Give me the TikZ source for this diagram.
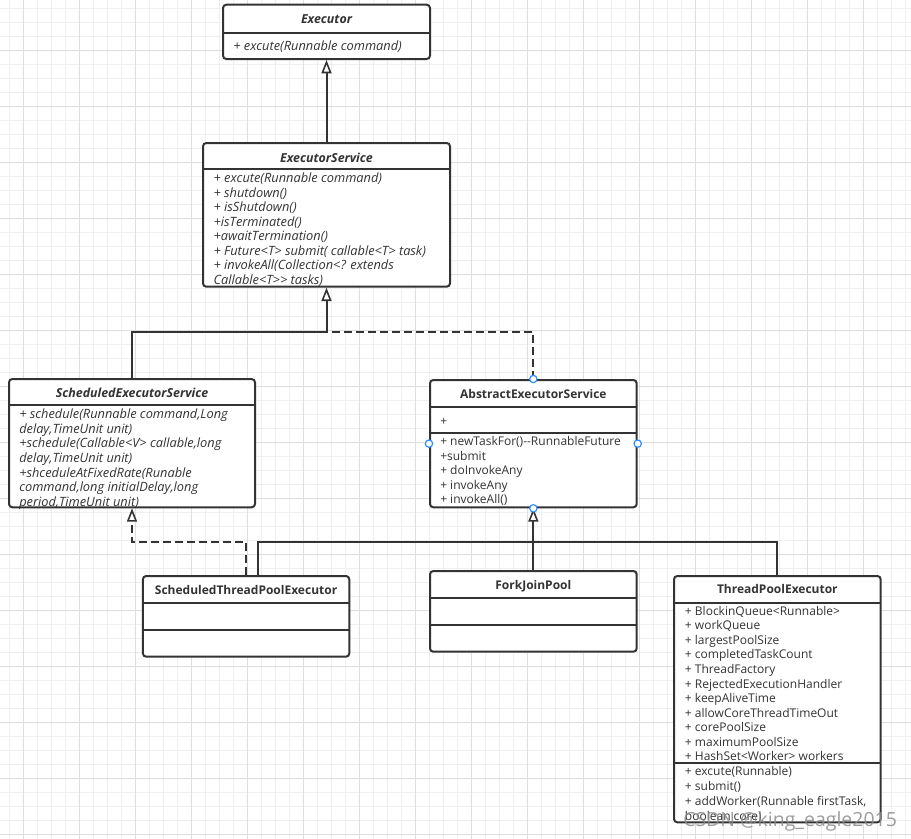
\documentclass[tikz,border=0pt]{standalone}
\usepackage{fontspec}
\setmainfont{Open Sans}
\usetikzlibrary{arrows.meta,fit}
\definecolor{ink}{HTML}{333333}
\definecolor{gridminor}{HTML}{EFEFEF}
\definecolor{gridmajor}{HTML}{DEDEDE}
\definecolor{handle}{HTML}{2F8FFF}
\tikzset{
  classbox/.style={draw=ink, line width=1.5pt, fill=white, rounded corners=2.5pt, inner sep=0pt},
  divider/.style={draw=ink, line width=1.5pt},
  ttl/.style={font=\fontsize{9}{11}\selectfont\bfseries, text=ink, inner sep=0pt, anchor=base},
  ittl/.style={ttl, font=\fontsize{9.3}{11}\selectfont\bfseries\itshape},
  member/.style={font=\fontsize{9}{11}\selectfont, text=ink, inner sep=0pt, anchor=base west},
  imember/.style={member, font=\fontsize{9.6}{11}\selectfont\itshape},
  conn/.style={draw=ink, line width=1.5pt},
  realize/.style={conn, dash pattern=on 6pt off 3pt},
  inherit/.style={-{Triangle[open, length=10pt, width=7.5pt, line width=1.2pt]}},
  handlept/.style={circle, draw=handle, fill=white, line width=0.9pt, minimum size=5.5pt, inner sep=0pt},
}
\begin{document}
\begin{tikzpicture}[x=0.75pt, y=-0.75pt]
\useasboundingbox (0,0) rectangle (911,839);
\fill[white] (0,0) rectangle (911,839);
% grid
\foreach \i in {0,...,64} \draw[gridminor, line width=0.75pt] ({9.3+14*\i},0) -- ({9.3+14*\i},839);
\foreach \i in {0,...,59} \draw[gridminor, line width=0.75pt] (0,{8.3+14*\i}) -- (911,{8.3+14*\i});
\foreach \i in {0,...,15} \draw[gridmajor, line width=0.75pt] ({23.3+56*\i},0) -- ({23.3+56*\i},839);
\foreach \i in {0,...,14} \draw[gridmajor, line width=0.75pt] (0,{50.3+56*\i}) -- (911,{50.3+56*\i});

% ---------- Executor
\node[classbox, fit={(223,4.7) (430,59)}] (exec) {};
\draw[divider] (223,32.7) -- (430,32.7);
\node[ittl] (exec-t) at (326.5,23.7) {Executor};
\node[imember] (exec-m1) at (233,50.2) {+ excute(Runnable command)};

% ---------- ExecutorService
\node[classbox, fit={(203,143) (450,286.7)}] (ess) {};
\draw[divider] (203,169.3) -- (450,169.3);
\node[ittl] (ess-t) at (326.5,162.1) {ExecutorService};
\foreach \t [count=\i] in {{+ excute(Runnable command)},{+ shutdown()},{+ isShutdown()},{+isTerminated()},{+awaitTermination()},{+ Future<T> submit( callable<T> task)},{+ invokeAll(Collection<? extends},{Callable<T>{}> tasks)}}
  \node[imember] (ess-m\i) at (213.3,{182.5+(\i-1)*14.57}) {\t};

% ---------- ScheduledExecutorService
\node[classbox, fit={(9,379) (255,507.3)}] (ses) {};
\draw[divider] (9,404.7) -- (255,404.7);
\node[ittl] (ses-t) at (132,397.1) {ScheduledExecutorService};
\foreach \t [count=\i] in {{+ schedule(Runnable command,Long},{delay,TimeUnit unit)},{+schedule(Callable<V> callable,long},{delay,TimeUnit unit)},{+shceduleAtFixedRate(Runable},{command,long initialDelay,long},{period,TimeUnit unit)}}
  \node[imember] (ses-m\i) at (19,{418.5+(\i-1)*14.67}) {\t};

% ---------- AbstractExecutorService
\node[classbox, fit={(430,380) (636.7,507.3)}] (aes) {};
\draw[divider] (430,406.7) -- (636.7,406.7);
\draw[divider] (430,433.3) -- (636.7,433.3);
\node[ttl] (aes-t) at (533.35,398.4) {AbstractExecutorService};
\node[member] (aes-f1) at (440,425.2) {+};
\foreach \t [count=\i] in {{+ newTaskFor()-{}-RunnableFuture},{+submit},{+ doInvokeAny},{+ invokeAny},{+ invokeAll()}}
  \node[member] (aes-m\i) at (440,{445.9+(\i-1)*14.4}) {\t};

% ---------- ScheduledThreadPoolExecutor
\node[classbox, fit={(142.9,576) (349.3,656.7)}] (stpe) {};
\draw[divider] (142.9,603.3) -- (349.3,603.3);
\draw[divider] (142.9,630) -- (349.3,630);
\node[ttl] (stpe-t) at (246.1,594.4) {ScheduledThreadPoolExecutor};

% ---------- ForkJoinPool
\node[classbox, fit={(430,571) (636.7,651.7)}] (fjp) {};
\draw[divider] (430,598.3) -- (636.7,598.3);
\draw[divider] (430,625) -- (636.7,625);
\node[ttl] (fjp-t) at (533.35,589.4) {ForkJoinPool};

% ---------- ThreadPoolExecutor
\node[classbox, fit={(674,576) (880.7,822.3)}] (tpe) {};
\draw[divider] (674,603.3) -- (880.7,603.3);
\draw[divider] (674,763.3) -- (880.7,763.3);
\node[ttl] (tpe-t) at (777.35,593.7) {ThreadPoolExecutor};
\foreach \t [count=\i] in {{+ BlockinQueue<Runnable>},{+ workQueue},{+ largestPoolSize},{+ completedTaskCount},{+ ThreadFactory},{+ RejectedExecutionHandler},{+ keepAliveTime},{+ allowCoreThreadTimeOut},{+ corePoolSize},{+ maximumPoolSize},{+ HashSet<Worker> workers}}
  \node[member] (tpe-f\i) at (684.7,{615.2+(\i-1)*14.57}) {\t};
\foreach \t [count=\i] in {{+ excute(Runnable)},{+ submit()},{+ addWorker(Runnable firstTask,},{boolean core)}}
  \node[member] (tpe-m\i) at (684.7,{775.9+(\i-1)*14.8}) {\t};

% ---------- connectors
\coordinate (j1) at (326.5,332.3);
\coordinate (j2) at (132,542.3);
\coordinate (j3) at (533.35,542.3);
\coordinate (stpeR) at ([xshift=8.7pt]stpe.north);
\draw[conn, inherit] (ess.north) -- (exec.south);
\draw[realize] (aes.north) |- (j1);
\draw[conn, inherit] (ses.north) |- (j1) -- (ess.south);
\draw[realize, inherit] (stpe.north) |- (j2) -- (ses.south);
\draw[conn] (stpeR) |- (j3);
\draw[conn] (tpe.north) |- (j3);
\draw[conn, inherit] (fjp.north) -- (aes.south);

% selection handles
\node[handlept] (h-n) at (aes.north) {};
\node[handlept] (h-s) at (aes.south) {};
\node[handlept] (h-w) at (aes.west) {};
\node[handlept] (h-e) at (aes.east) {};

% watermark
\node[font=\fontsize{14.6}{16}\selectfont, text=black!45, opacity=0.85, anchor=base west, inner sep=0pt] (wm) at (683,826) {CSDN @king\_eagle2015};
\end{tikzpicture}
\end{document}
